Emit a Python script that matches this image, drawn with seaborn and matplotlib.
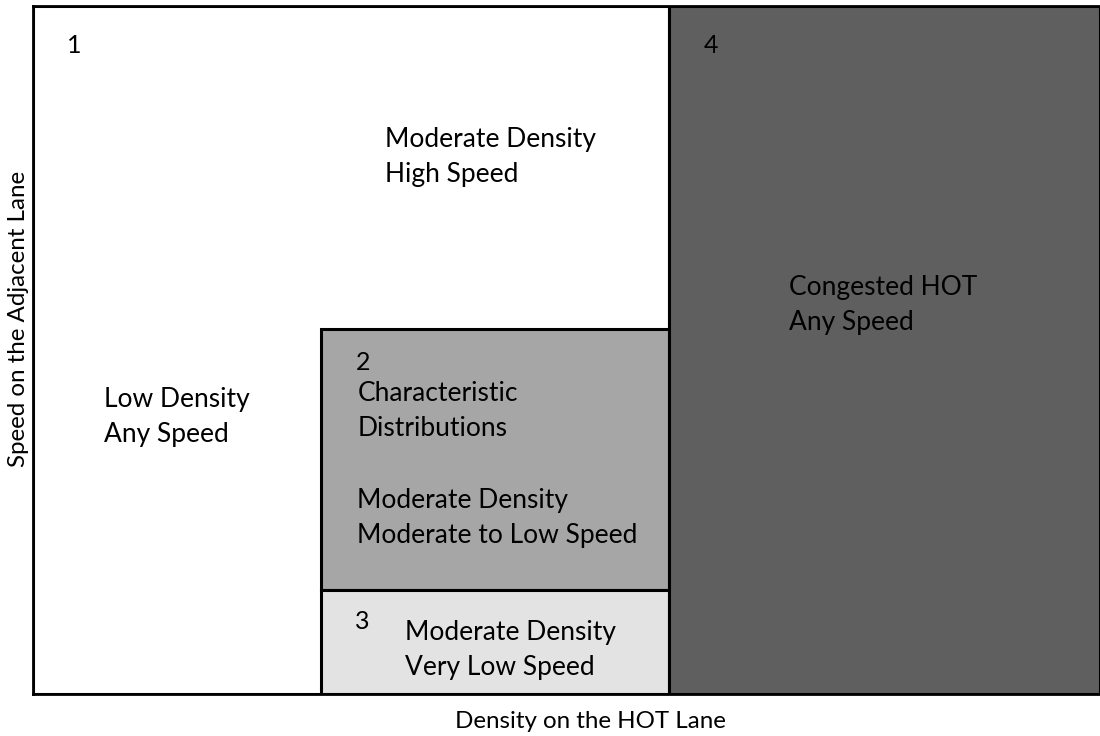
import numpy as np
import seaborn as sns
import matplotlib.pyplot as plt

# regions in (density, speed) units, both scaled 0..1
region_names = ["1", "2", "3", "4"]
region_left = [0.0, 0.27, 0.27, 0.596]
region_right = [0.596, 0.596, 0.596, 1.0]
region_bottom = [0.0, 0.151, 0.0, 0.0]
region_top = [1.0, 0.5305, 0.151, 1.0]
region_colors = ["#ffffff", "#a6a6a6", "#e3e3e3", "#5f5f5f"]

# region numbers
num_x = [0.039, 0.309, 0.309, 0.635]
num_y = [0.943, 0.4826, 0.106, 0.943]

# region descriptions
desc_x = [0.0665, 0.304, 0.304, 0.33, 0.3486, 0.7085]
desc_y = [0.402, 0.411, 0.256, 0.781, 0.064, 0.565]
desc_text = ["Low Density\nAny Speed",
             "Characteristic\nDistributions",
             "Moderate Density\nModerate to Low Speed",
             "Moderate Density\nHigh Speed",
             "Moderate Density\nVery Low Speed",
             "Congested HOT\nAny Speed"]

sns.set_style("white")
plt.rcParams['font.family'] = ['Lato', 'DejaVu Sans']

fig = plt.figure(figsize=(11, 7.36), dpi=100)
ax = fig.add_axes([0.03, 0.057, 0.97, 0.9348])

widths = np.array(region_right) - np.array(region_left)
heights = np.array(region_top) - np.array(region_bottom)
ax.bar(region_left, heights, width=widths, bottom=region_bottom, align="edge",
       color=region_colors, edgecolor="black", linewidth=2.2, zorder=1)

for x, y, t in zip(num_x, num_y, region_names):
    ax.text(x, y, t, fontsize=18, ha="center", va="center", color="black", zorder=3)

for x, y, t in zip(desc_x, desc_y, desc_text):
    ax.text(x, y, t, fontsize=19, ha="left", va="center", linespacing=1.5,
            color="black", zorder=3)

ax.set_xlim(0, 1)
ax.set_ylim(0, 1)
ax.set_xticks([])
ax.set_yticks([])
for s in ["left", "top", "bottom"]:
    ax.spines[s].set_linewidth(2)
    ax.spines[s].set_color("black")
ax.spines["right"].set_visible(False)
ax.set_xlabel("Density on the HOT Lane", fontsize=17.4, color="black")
ax.xaxis.set_label_coords(0.522, -0.024)
ax.set_ylabel("Speed on the Adjacent Lane", fontsize=17.4, color="black")
ax.yaxis.set_label_coords(-0.004, 0.545)

fig.savefig("out.png", dpi=100)
